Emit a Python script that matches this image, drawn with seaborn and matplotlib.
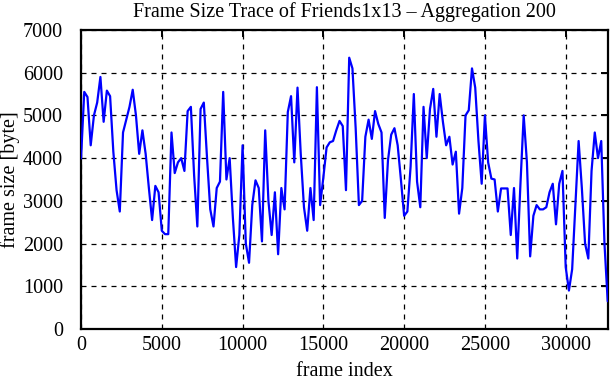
import numpy as np
import pandas as pd
import matplotlib
matplotlib.use("Agg")
import matplotlib.pyplot as plt
import seaborn as sns

# Aggregated frame sizes (bytes), one value per 200 frames
frame_size = [
    3990, 5550, 5430, 4300, 5000, 5300, 5900, 4850, 5580, 5450,
    4150, 3250, 2750, 4600, 4900, 5200, 5600, 5000, 4100, 4650,
    4100, 3300, 2550, 3350, 3200, 2300, 2220, 2220, 4600, 3650,
    3900, 4000, 3700, 5100, 5200, 3600, 2400, 5150, 5300, 4000,
    2800, 2400, 3300, 3450, 5550, 3500, 4000, 2600, 1450, 2200,
    4300, 2000, 1550, 2900, 3480, 3300, 2050, 4650, 3000, 2200,
    3200, 1750, 3300, 2800, 5080, 5450, 3900, 5650, 4100, 2850,
    2300, 3300, 2550, 5660, 2900, 3550, 4250, 4370, 4400, 4650,
    4870, 4750, 3250, 6350, 6100, 4700, 2900, 3000, 4500, 4900,
    4450, 5100, 4800, 4600, 2600, 3950, 4550, 4700, 4300, 3500,
    2650, 2750, 3800, 5500, 3450, 2850, 5200, 4000, 5150, 5620,
    4500, 5500, 4850, 4300, 4500, 3850, 4150, 2700, 3300, 5000,
    5120, 6100, 5650, 4400, 3400, 5000, 3900, 3520, 3500, 2750,
    3290, 3290, 3290, 2200, 3300, 1650, 3400, 5000, 3900, 1700,
    2650, 2900, 2800, 2800, 2850, 3200, 3400, 2450, 3400, 3700,
    1450, 900, 1400, 2900, 4400, 3300, 2000, 1650, 3700, 4600,
    4000, 4400, 2000, 650,
]
frame_index = [i * 200 for i in range(len(frame_size))]

x_ticks = [0, 5000, 10000, 15000, 20000, 25000, 30000]
y_ticks = [0, 1000, 2000, 3000, 4000, 5000, 6000, 7000]

df = pd.DataFrame({"frame index": frame_index, "frame size": frame_size})

sns.set_theme(style="white")
plt.rcParams["font.family"] = ["Liberation Serif", "DejaVu Serif"]

fig = plt.figure(figsize=(6.11, 3.80), dpi=100)
ax = fig.add_axes([0.1326, 0.1342, 0.862, 0.787])

sns.lineplot(data=df, x="frame index", y="frame size", ax=ax,
             color="#0000ff", linewidth=1.6, zorder=3)

ax.set_xlim(0, frame_index[-1])
ax.set_ylim(0, 7000)
ax.set_xticks(x_ticks)
ax.set_yticks(y_ticks)
ax.set_xticklabels([str(t) for t in x_ticks])
ax.set_yticklabels([str(t) for t in y_ticks])

ax.grid(True, color="black", linestyle=(0, (4, 4)), linewidth=0.9, zorder=1)
for s in ax.spines.values():
    s.set_color("black")
    s.set_linewidth(1.6)
ax.tick_params(direction="in", length=5, width=1.4, top=True, right=True,
               labelsize=14.5, colors="black")
ax.tick_params(axis="x", pad=5)
ax.tick_params(axis="y", pad=13)

ax.set_xlabel("frame index", fontsize=14.5, color="black", labelpad=5)
ax.set_ylabel("frame size [byte]", fontsize=14.5, color="black", labelpad=2)
ax.set_title("Frame Size Trace of Friends1x13 \u2013 Aggregation 200",
             fontsize=14.5, color="black", pad=9)

fig.savefig("out.png", dpi=100, facecolor="white")
